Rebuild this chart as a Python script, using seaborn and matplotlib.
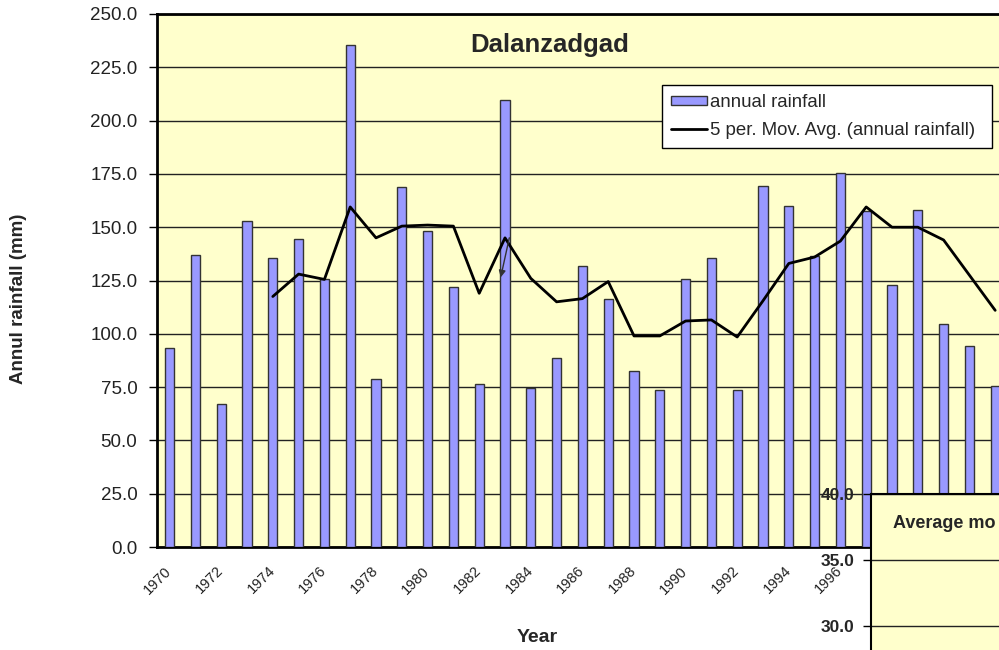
import numpy as np
import seaborn as sns
import matplotlib.pyplot as plt
from matplotlib.patches import Patch
from matplotlib.lines import Line2D

years = list(range(1970, 2003))
rainfall = [93.5, 137.0, 67.0, 153.0, 135.5, 144.5, 125.5, 235.5, 79.0, 169.0,
            148.0, 122.0, 76.5, 209.5, 74.5, 88.5, 132.0, 116.5, 82.5, 73.5,
            125.5, 135.5, 73.5, 169.5, 160.0, 136.5, 175.5, 157.5, 123.0, 158.0,
            104.5, 94.5, 75.5]
# 5 per. moving average (starts at 1974)
mov_avg = [117.5, 128.0, 125.5, 159.5, 145.0, 150.5, 151.0, 150.5, 119.0, 145.0,
           126.0, 115.0, 116.5, 124.5, 99.0, 99.0, 106.0, 106.5, 98.5, 115.5,
           133.0, 136.0, 143.5, 159.5, 150.0, 150.0, 144.0, 127.5, 111.0]
yticks = np.arange(0, 251, 25)
inset_yticks = [30.0, 35.0, 40.0]
last_visible_label = 1996   # later labels sit under the second chart

sns.set_style("white")
plt.rcParams["font.family"] = ["Liberation Sans", "DejaVu Sans"]

W, H = 999, 650
fig = plt.figure(figsize=(W / 100, H / 100), dpi=100)

# main chart, right edge runs past the picture like the screenshot
x0, ytop, ybot, step = 156.7, 14, 547, 25.8
ax = fig.add_axes([x0 / W, 1 - ybot / H, len(years) * step / W, (ybot - ytop) / H])
ax.set_facecolor("#FFFFCC")

sns.barplot(x=[str(y) for y in years], y=rainfall, ax=ax, color="#9999FF",
            saturation=1, width=0.36, edgecolor="#333333", linewidth=1, zorder=3)
ma_pos = np.arange(len(years) - len(mov_avg), len(years))
sns.lineplot(x=ma_pos, y=mov_avg, ax=ax, color="black", lw=2, zorder=4)

ax.annotate("", xy=(12.81, 125.2), xytext=(13.19, 146.3),
            arrowprops=dict(arrowstyle="-|>", color="#333333", lw=1, mutation_scale=10),
            zorder=5)

ax.set_xlim(-0.5, len(years) - 0.5)
ax.set_ylim(0, 250)
ax.set_yticks(yticks)
ax.set_yticklabels(["%.1f" % v for v in yticks])
ax.yaxis.grid(True, color="#222222", lw=1)
ax.set_axisbelow(True)
ax.set_xticks(np.arange(len(years)) - 0.2)
ax.set_xticklabels([str(y) if (y % 2 == 0 and y <= last_visible_label) else ""
                    for y in years])
ax.set_xticks(np.arange(-0.5, len(years), 1), minor=True)
ax.tick_params(axis="x", which="major", length=0, pad=12, labelsize=10.5, labelcolor="#222222")
ax.tick_params(axis="x", which="minor", length=6, width=1, color="black", direction="out")
ax.tick_params(axis="y", length=6, width=1, color="black", direction="out", pad=8,
               labelsize=13.5, labelcolor="#222222", left=True)
plt.setp(ax.get_xticklabels(), rotation=45, ha="right", rotation_mode="anchor")
ax.set_xlabel("")
ax.set_ylabel("")
for side in ["top", "left", "bottom"]:
    ax.spines[side].set_color("black")
    ax.spines[side].set_linewidth(2)

handles = [Patch(facecolor="#9999FF", edgecolor="#333333", lw=1),
           Line2D([], [], color="black", lw=2)]
lx0 = (662 - x0) / (len(years) * step)
lx1 = (992 - x0) / (len(years) * step)
ly1 = (ybot - 85) / (ybot - ytop)
leg = ax.legend(handles, ["annual rainfall", "5 per. Mov. Avg. (annual rainfall)"],
                loc="upper left", bbox_to_anchor=(lx0, ly1 - 0.2, lx1 - lx0, 0.2),
                mode="expand", borderaxespad=0, fontsize=13.4, frameon=True,
                fancybox=False, framealpha=1, edgecolor="black", handlelength=1.9,
                handleheight=0.4, handletextpad=0.2, borderpad=0.5, labelspacing=0.55)
leg.get_frame().set_linewidth(1)

fig.text(550 / W, 1 - 45 / H, "Dalanzadgad", ha="center", va="center",
         size=18.5, weight="bold")
fig.text(19 / W, 1 - 299 / H, "Annul rainfall (mm)", rotation=90, ha="center",
         va="center", size=13.5, weight="bold")
fig.text(537 / W, 1 - 638 / H, "Year", ha="center", va="center", size=14, weight="bold")

# second chart overlapping the lower right corner
px5 = 66.2
iax = fig.add_axes([871 / W, 1 - (494 + 3 * px5) / H, 200 / W, 3 * px5 / H])
iax.set_facecolor("#FFFFCC")
iax.set_ylim(25, 40)
iax.set_xlim(0, 1)
iax.set_yticks(inset_yticks)
iax.set_yticklabels(["%.1f" % v for v in inset_yticks])
iax.set_xticks([])
iax.yaxis.grid(True, color="#222222", lw=1)
iax.tick_params(axis="y", length=6, width=1, color="black", direction="out", pad=6,
                labelsize=12.5, left=True)
for lbl in iax.get_yticklabels():
    lbl.set_fontweight("bold")
for side in ["top", "left"]:
    iax.spines[side].set_color("black")
    iax.spines[side].set_linewidth(1.5)
fig.text(893 / W, 1 - 523 / H, "Average mo", ha="left", va="center",
         size=13, weight="bold")

fig.savefig("out.png", dpi=100)
